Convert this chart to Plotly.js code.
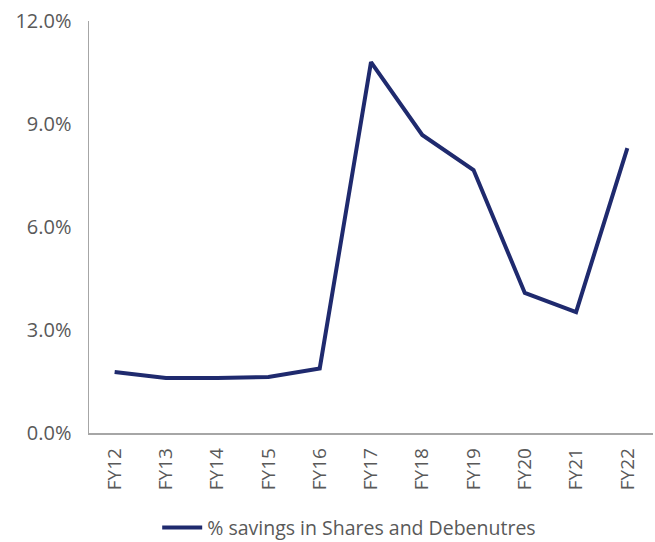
<!DOCTYPE html>
<html>
<head>
<meta charset="utf-8">
<script src="https://cdn.plot.ly/plotly-3.0.1.min.js"></script>
<style>html,body{margin:0;padding:0;background:#fff;}#chart{width:655px;height:542px;}</style>
</head>
<body>
<div id="chart"></div>
<script>
const categories = ["FY12","FY13","FY14","FY15","FY16","FY17","FY18","FY19","FY20","FY21","FY22"];
const savingsShares = [1.78, 1.60, 1.60, 1.63, 1.88, 10.80, 8.68, 7.66, 4.08, 3.52, 8.30];
const yTicks = [0, 3, 6, 9, 12];
const seriesName = "% savings in Shares and Debenutres";

const trace = {
  x: categories,
  y: savingsShares,
  type: "scatter",
  mode: "lines",
  name: seriesName,
  line: {color: "#1f2a6e", width: 4}
};

const layout = {
  width: 655, height: 542,
  margin: {l: 89, r: 2, t: 21, b: 109},
  paper_bgcolor: "#ffffff",
  plot_bgcolor: "#ffffff",
  font: {family: "Open Sans, sans-serif", size: 19, color: "#595959"},
  showlegend: true,
  legend: {
    orientation: "h",
    xref: "container", yref: "container",
    x: 0.24, xanchor: "left",
    y: 0.026, yanchor: "middle",
    font: {size: 19.5, color: "#595959"},
    itemwidth: 40
  },
  xaxis: {
    type: "category",
    range: [-0.5, 10.5],
    showgrid: false,
    zeroline: false,
    showline: true,
    linecolor: "#a6a6a6",
    linewidth: 1.5,
    ticks: "",
    tickangle: -90,
    ticklabelstandoff: 6,
    fixedrange: true
  },
  yaxis: {
    range: [0, 12],
    tickvals: yTicks,
    ticktext: yTicks.map(v => v.toFixed(1) + "%"),
    tickfont: {size: 20},
    showgrid: false,
    zeroline: false,
    showline: true,
    linecolor: "#a6a6a6",
    linewidth: 1.5,
    ticks: "",
    ticklabelstandoff: 12,
    fixedrange: true
  }
};

Plotly.newPlot("chart", [trace], layout, {displayModeBar: false, staticPlot: true});
</script>
</body>
</html>
